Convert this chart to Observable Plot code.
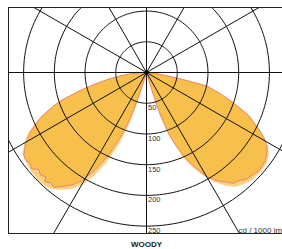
<!DOCTYPE html>
<html><head><meta charset="utf-8">
<script src="https://cdn.jsdelivr.net/npm/d3@7"></script>
<script src="https://cdn.jsdelivr.net/npm/@observablehq/plot@0.6"></script>
<style>
body{margin:0;background:#fff;font-family:"Liberation Sans",Arial,sans-serif;}
#chart{position:absolute;left:0;top:0;}
#title{position:absolute;left:0;width:293px;text-align:center;top:240px;font-weight:bold;font-size:8px;color:#222;}
</style></head><body><div id="chart"></div><div id="title">WOODY</div>
<script>
// grid
const ringValues = [50, 100, 150, 200, 250];
const spokeAngles = [0, 30, 60, 90, 120, 150];
const unitLabel = "cd / 1000 lm";
const title = "WOODY";

// dark curve (with red outline): gamma from nadir (deg) and intensity (cd/1000 lm)
const darkLeftGamma = [0, 15, 17, 18, 19, 20, 22, 25, 28, 31, 33, 35, 37, 39, 41, 43, 44, 46, 48, 50, 52, 54, 56, 58, 60, 62, 64, 67, 70, 72, 75, 77, 80, 83, 85, 88, 90];
const darkLeftI     = [0, 0, 12, 32, 62, 85, 114, 152, 181, 206, 217, 225, 233, 240, 238, 243, 236, 240, 236, 244, 240, 243, 241, 234, 226, 216, 205, 187, 162, 145, 110, 90, 64, 42, 28, 10, 0];
const darkRightGamma = [0, 15, 16.5, 17, 18, 20, 22, 24, 26, 28, 30, 32, 34, 36, 38, 41, 43, 45, 47, 49, 51, 53, 55, 57, 59, 61, 63, 65, 67, 71, 74, 77.5, 79, 81, 84, 90];
const darkRightI     = [0, 0, 15, 37, 71, 108, 128, 150, 165, 180, 196, 205, 214, 220, 229, 232, 238, 239, 241, 243, 242, 241, 238, 234, 228, 218, 206, 192, 182, 148, 125, 100, 60, 30, 15, 0];
// light curve (behind)
const lightLeftGamma = [0, 14, 15.5, 16.5, 17.5, 19, 21, 24, 27, 30, 33, 36, 39, 42, 45, 48, 51, 54, 57, 60, 63, 66, 69, 72, 75, 78, 81, 84, 87, 90];
const lightLeftI     = [0, 0, 15, 40, 70, 95, 125, 160, 190, 212, 226, 236, 244, 248, 249, 248, 246, 244, 240, 230, 216, 196, 173, 147, 112, 82, 55, 32, 12, 0];
const lightRightGamma = [0, 14, 15.5, 16.5, 17.5, 19, 21, 23.5, 26, 29, 32, 35, 38, 41, 44, 47, 50, 53, 56, 59, 62, 65, 68, 71, 74, 77, 80, 83, 86, 90];
const lightRightI     = [0, 0, 15, 40, 72, 100, 122, 152, 172, 192, 210, 225, 236, 241, 245, 246, 246, 245, 240, 230, 214, 196, 176, 150, 125, 100, 60, 30, 14, 0];

const rad = d => d * Math.PI / 180;
function polygon(lg, li, rg, ri) {
  const pts = [];
  lg.forEach((g, i) => pts.push({x: -li[i] * Math.sin(rad(g)), y: -li[i] * Math.cos(rad(g))}));
  for (let i = rg.length - 1; i >= 0; i--) pts.push({x: ri[i] * Math.sin(rad(rg[i])), y: -ri[i] * Math.cos(rad(rg[i]))});
  return pts;
}
const darkPoly = polygon(darkLeftGamma, darkLeftI, darkRightGamma, darkRightI);
const lightPoly = polygon(lightLeftGamma, lightLeftI, lightRightGamma, lightRightI);

const ringPts = ringValues.flatMap(v => d3.range(0, 361, 2).map(a => ({ring: v, x: v * Math.sin(rad(a)), y: v * Math.cos(rad(a))})));
const L = 600;
const spokes = spokeAngles.map(a => ({x1: -L * Math.cos(rad(a)), y1: -L * Math.sin(rad(a)), x2: L * Math.cos(rad(a)), y2: L * Math.sin(rad(a))}));

const xDomain = [-224.6, 221.3];
const yDomain = [-262, 105.8];

const plot = Plot.plot({
  width: 282, height: 236,
  marginLeft: 8, marginRight: 0, marginTop: 7, marginBottom: 3,
  x: {domain: xDomain, axis: null},
  y: {domain: yDomain, axis: null},
  style: {fontFamily: "'Liberation Sans', Arial, sans-serif", background: "white"},
  marks: [
    Plot.line(lightPoly, {x: "x", y: "y", curve: "linear-closed", fill: "#fbd285", stroke: "none"}),
    Plot.line(darkPoly, {x: "x", y: "y", curve: "linear-closed", fill: "#f7bf4c", stroke: "#f2836b", strokeWidth: 1}),
    Plot.line(ringPts, {x: "x", y: "y", z: "ring", curve: "linear-closed", stroke: "#111", strokeWidth: 1, clip: true}),
    Plot.link(spokes, {x1: "x1", y1: "y1", x2: "x2", y2: "y2", stroke: "#111", strokeWidth: 1, clip: true}),
    Plot.ruleX([xDomain[0]], {stroke: "#222", strokeWidth: 1}),
    Plot.ruleY([yDomain[0], yDomain[1]], {stroke: "#222", strokeWidth: 1}),
    Plot.dot([0], {x: 0, y: 0, r: 2, fill: "#000", stroke: "none"}),
    Plot.text(ringValues, {x: 0, y: v => -v, text: v => String(v), dx: 1.5, dy: 1.5, lineAnchor: "top", textAnchor: "start", fontSize: 7.5, fill: "#333"}),
    Plot.text([unitLabel], {frameAnchor: "bottom-left", text: d => d, dx: 230, dy: -1, textAnchor: "start", lineAnchor: "bottom", fontSize: 8, fill: "#333"})
  ]
});
document.getElementById("chart").appendChild(plot);
document.getElementById("title").textContent = title;
</script></body></html>
